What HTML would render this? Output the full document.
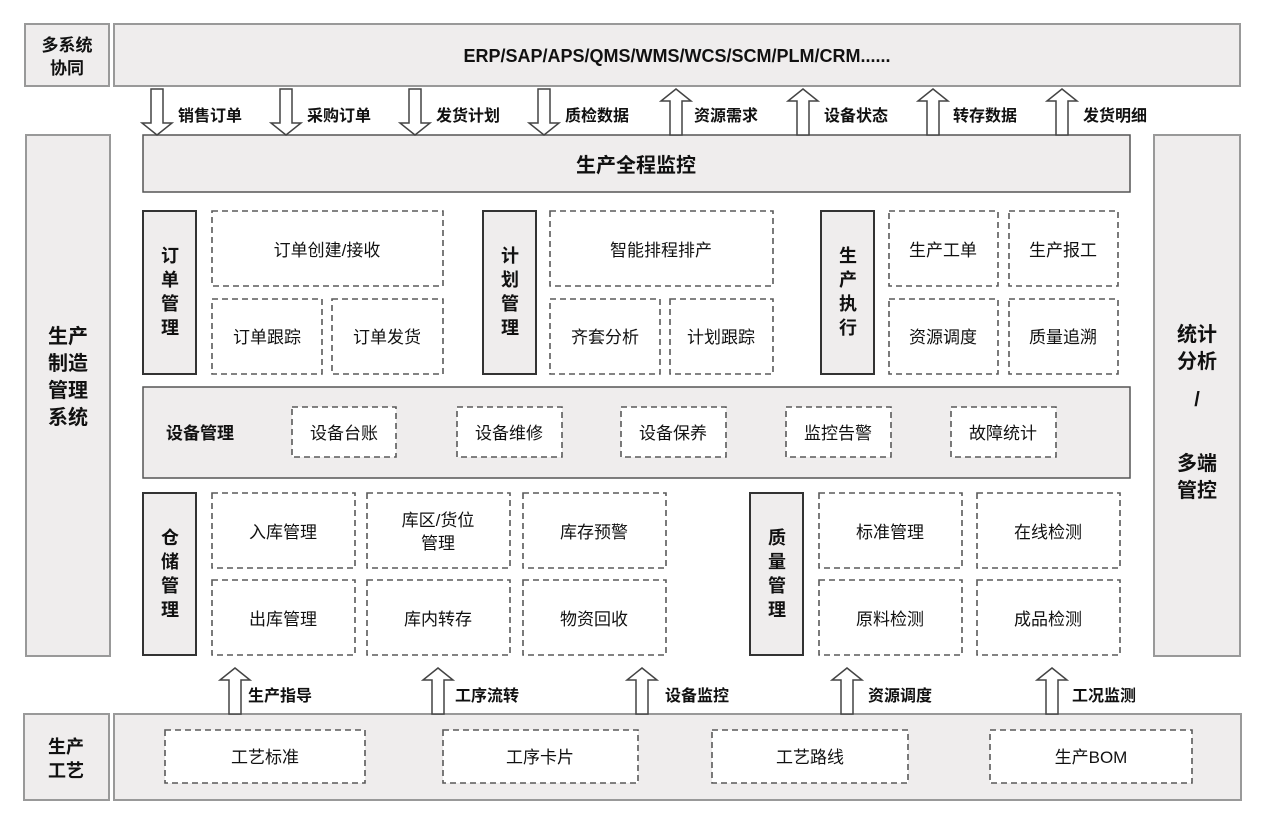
<!DOCTYPE html>
<html><head><meta charset="utf-8"><style>
html,body{margin:0;padding:0;background:#fff;}
svg{display:block;}
text{font-family:"Liberation Sans","Noto Sans CJK SC",sans-serif;fill:#111;}
.b{font-weight:bold;}
</style></head><body>
<svg width="1264" height="824" viewBox="0 0 1264 824" xmlns="http://www.w3.org/2000/svg">
<defs>
<g id="dn"><path d="M-6,0 H6 V34 H15 L0,46 L-15,34 H-6 Z" fill="#fff" stroke="#444" stroke-width="1.5"/></g>
<g id="up"><path d="M-6,46 H6 V12 H15 L0,0 L-15,12 H-6 Z" fill="#fff" stroke="#444" stroke-width="1.5"/></g>
</defs>
<g fill="#efeded" stroke="#999" stroke-width="2">
<rect x="25" y="24" width="84" height="62"/>
<rect x="114" y="24" width="1126" height="62"/>
<rect x="26" y="135" width="84" height="521"/>
<rect x="1154" y="135" width="86" height="521"/>
<rect x="24" y="714" width="85" height="86"/>
<rect x="114" y="714" width="1127" height="86"/>
</g>
<g fill="#efeded" stroke="#555" stroke-width="1.5">
<rect x="143" y="135" width="987" height="57"/>
<rect x="143" y="387" width="987" height="91"/>
</g>
<g fill="#efeded" stroke="#333" stroke-width="2">
<rect x="143" y="211" width="53" height="163"/>
<rect x="483" y="211" width="53" height="163"/>
<rect x="821" y="211" width="53" height="163"/>
<rect x="143" y="493" width="53" height="162"/>
<rect x="750" y="493" width="53" height="162"/>
</g>
<g fill="#fff" stroke="#5a5a5a" stroke-width="1.6" stroke-dasharray="6,4">
<rect x="212" y="211" width="231" height="75"/>
<rect x="212" y="299" width="110" height="75"/>
<rect x="332" y="299" width="111" height="75"/>
<rect x="550" y="211" width="223" height="75"/>
<rect x="550" y="299" width="110" height="75"/>
<rect x="670" y="299" width="103" height="75"/>
<rect x="889" y="211" width="109" height="75"/>
<rect x="1009" y="211" width="109" height="75"/>
<rect x="889" y="299" width="109" height="75"/>
<rect x="1009" y="299" width="109" height="75"/>
<rect x="292" y="407" width="104" height="50"/>
<rect x="457" y="407" width="105" height="50"/>
<rect x="621" y="407" width="105" height="50"/>
<rect x="786" y="407" width="105" height="50"/>
<rect x="951" y="407" width="105" height="50"/>
<rect x="212" y="493" width="143" height="75"/>
<rect x="367" y="493" width="143" height="75"/>
<rect x="523" y="493" width="143" height="75"/>
<rect x="212" y="580" width="143" height="75"/>
<rect x="367" y="580" width="143" height="75"/>
<rect x="523" y="580" width="143" height="75"/>
<rect x="819" y="493" width="143" height="75"/>
<rect x="977" y="493" width="143" height="75"/>
<rect x="819" y="580" width="143" height="75"/>
<rect x="977" y="580" width="143" height="75"/>
<rect x="165" y="730" width="200" height="53"/>
<rect x="443" y="730" width="195" height="53"/>
<rect x="712" y="730" width="196" height="53"/>
<rect x="990" y="730" width="202" height="53"/>
</g>
<use href="#dn" x="157" y="89"/><use href="#dn" x="286" y="89"/><use href="#dn" x="415" y="89"/><use href="#dn" x="544" y="89"/>
<use href="#up" x="676" y="89"/><use href="#up" x="803" y="89"/><use href="#up" x="933" y="89"/><use href="#up" x="1062" y="89"/>
<use href="#up" x="235" y="668"/><use href="#up" x="438" y="668"/><use href="#up" x="642" y="668"/><use href="#up" x="847" y="668"/><use href="#up" x="1052" y="668"/>
<g class="b" font-size="16">
<text x="178" y="121">销售订单</text><text x="307" y="121">采购订单</text><text x="436" y="121">发货计划</text><text x="565" y="121">质检数据</text>
<text x="694" y="121">资源需求</text><text x="824" y="121">设备状态</text><text x="953" y="121">转存数据</text><text x="1083" y="121">发货明细</text>
<text x="248" y="701">生产指导</text><text x="455" y="701">工序流转</text><text x="665" y="701">设备监控</text><text x="868" y="701">资源调度</text><text x="1072" y="701">工况监测</text>
</g>
<g class="b" text-anchor="middle">
<text x="67" y="51" font-size="17">多系统</text><text x="67" y="74" font-size="17">协同</text>
<text x="677" y="62" font-size="18">ERP/SAP/APS/QMS/WMS/WCS/SCM/PLM/CRM......</text>
<text x="636" y="172" font-size="20">生产全程监控</text>
<g font-size="20"><text x="68" y="343">生产</text><text x="68" y="370">制造</text><text x="68" y="397">管理</text><text x="68" y="424">系统</text>
<text x="1197" y="341">统计</text><text x="1197" y="368">分析</text><text x="1197" y="406">/</text><text x="1197" y="470">多端</text><text x="1197" y="497">管控</text></g>
<text x="66" y="753" font-size="18">生产</text><text x="66" y="777" font-size="18">工艺</text>
<g font-size="18">
<text x="170" y="262">订</text><text x="170" y="286">单</text><text x="170" y="310">管</text><text x="170" y="334">理</text>
<text x="510" y="262">计</text><text x="510" y="286">划</text><text x="510" y="310">管</text><text x="510" y="334">理</text>
<text x="848" y="262">生</text><text x="848" y="286">产</text><text x="848" y="310">执</text><text x="848" y="334">行</text>
<text x="170" y="544">仓</text><text x="170" y="568">储</text><text x="170" y="592">管</text><text x="170" y="616">理</text>
<text x="777" y="544">质</text><text x="777" y="568">量</text><text x="777" y="592">管</text><text x="777" y="616">理</text>
</g>
<text x="200" y="439" font-size="17">设备管理</text>
</g>
<g text-anchor="middle" font-size="17">
<text x="327" y="256">订单创建/接收</text><text x="267" y="343">订单跟踪</text><text x="387" y="343">订单发货</text>
<text x="661" y="256">智能排程排产</text><text x="605" y="343">齐套分析</text><text x="721" y="343">计划跟踪</text>
<text x="943" y="256">生产工单</text><text x="1063" y="256">生产报工</text><text x="943" y="343">资源调度</text><text x="1063" y="343">质量追溯</text>
<text x="344" y="439">设备台账</text><text x="509" y="439">设备维修</text><text x="673" y="439">设备保养</text><text x="838" y="439">监控告警</text><text x="1003" y="439">故障统计</text>
<text x="283" y="538">入库管理</text><text x="438" y="526">库区/货位</text><text x="438" y="549">管理</text><text x="594" y="538">库存预警</text>
<text x="283" y="625">出库管理</text><text x="438" y="625">库内转存</text><text x="594" y="625">物资回收</text>
<text x="890" y="538">标准管理</text><text x="1048" y="538">在线检测</text><text x="890" y="625">原料检测</text><text x="1048" y="625">成品检测</text>
<text x="265" y="763">工艺标准</text><text x="540" y="763">工序卡片</text><text x="810" y="763">工艺路线</text><text x="1091" y="763">生产BOM</text>
</g>
</svg>
</body></html>
